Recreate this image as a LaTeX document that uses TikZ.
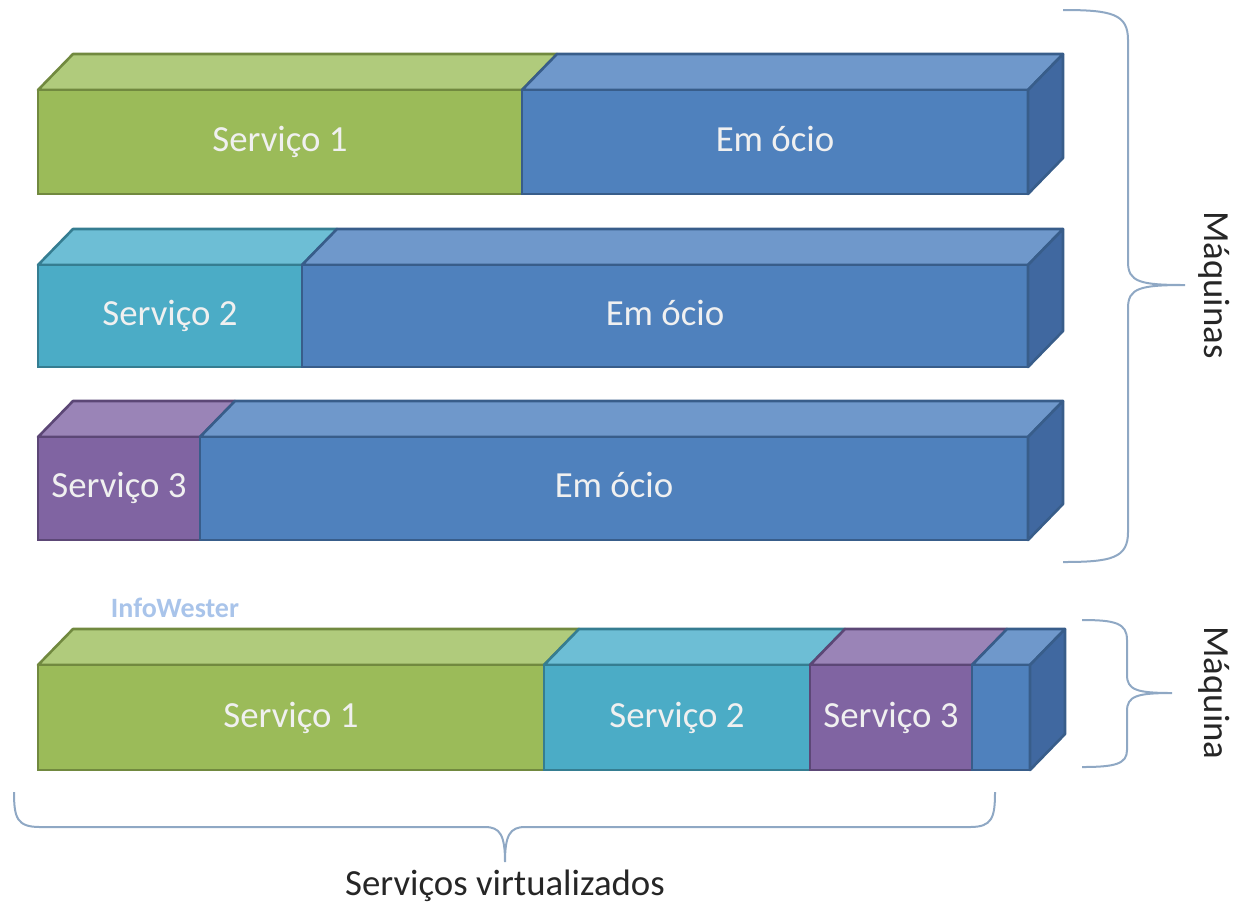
\documentclass[tikz,border=0pt]{standalone}
\usepackage{fontspec}
\setmainfont{Carlito}
\definecolor{verde}{HTML}{9BBB59}
\definecolor{verdeC}{HTML}{B0CB7C}
\definecolor{verdeE}{HTML}{71893F}
\definecolor{azul}{HTML}{4F81BD}
\definecolor{azulC}{HTML}{6F98CB}
\definecolor{azulE}{HTML}{385D8A}
\definecolor{azulL}{HTML}{4068A0}
\definecolor{ciano}{HTML}{4BACC6}
\definecolor{cianoC}{HTML}{6DBED5}
\definecolor{cianoE}{HTML}{357D91}
\definecolor{roxo}{HTML}{8064A2}
\definecolor{roxoC}{HTML}{9A84B7}
\definecolor{roxoE}{HTML}{5C4776}
\definecolor{chave}{HTML}{8FA8C4}
\definecolor{marca}{HTML}{A9C4EA}
% bloco : x1, x2, y haut, y bas, couleur
\newcommand{\bloco}[5]{%
\filldraw [fill=#5C,draw=#5E,line width=1.3pt,line join=round] (#1,#3) -- ++(35,-36) -- (#2+35,#3-36) -- (#2,#3) -- cycle;
\filldraw [fill=#5,draw=#5E,line width=1.3pt] (#1,#3) rectangle (#2,#4);}
% face de droite
\newcommand{\lado}[3]{%
\filldraw [fill=azulL,draw=azulE,line width=1.3pt,line join=round] (#1,#2) -- ++(35,-36) -- (#1+35,#3-36) -- (#1,#3) -- cycle;}
\begin{document}
\begin{tikzpicture} [x=0.5pt,y=-0.5pt,
  rotulo/.style={text=white!94!black,font=\fontsize{18.4}{22}\selectfont,text height=13pt,text depth=4pt},
  legenda/.style={text=black!85,font=\fontsize{18.4}{22}\selectfont,text height=13pt,text depth=4pt},
  chaves/.style={draw=chave,line width=1pt}]
\useasboundingbox (0,0) rectangle (1240,912);

% trois machines
\bloco{38}{522}{90}{194}{verde}
\bloco{522}{1028}{90}{194}{azul}
\lado{1028}{90}{194}
\bloco{38}{302}{265}{367}{ciano}
\bloco{302}{1028}{265}{367}{azul}
\lado{1028}{265}{367}
\bloco{38}{200}{437}{540}{roxo}
\bloco{200}{1028}{437}{540}{azul}
\lado{1028}{437}{540}

\node[rotulo] (s1) at (280,142){Serviço 1};
\node[rotulo] (o1) at (775,142){Em ócio};
\node[rotulo] (s2) at (170,316){Serviço 2};
\node[rotulo] (o2) at (665,316){Em ócio};
\node[rotulo] (s3) at (119,488){Serviço 3};
\node[rotulo] (o3) at (614,488){Em ócio};

% une machine virtualisee
\node[text=marca,font=\bfseries\fontsize{14}{16}\selectfont] (iw) at (175,608){InfoWester};
\bloco{38}{544}{665}{770}{verde}
\bloco{544}{810}{665}{770}{ciano}
\bloco{810}{972}{665}{770}{roxo}
\bloco{972}{1030}{665}{770}{azul}
\lado{1030}{665}{770}

\node[rotulo] (v1) at (291,718){Serviço 1};
\node[rotulo] (v2) at (677,718){Serviço 2};
\node[rotulo] (v3) at (891,718){Serviço 3};

% accolades
\draw[chaves] (1063,10) .. controls (1112,10) and (1128,14) .. (1128,40) -- (1128,262)
  .. controls (1128,282) and (1140,285) .. (1185,285)
  .. controls (1140,285) and (1128,288) .. (1128,308) -- (1128,532)
  .. controls (1128,558) and (1112,562) .. (1063,562);
\draw[chaves] (1082,620) .. controls (1115,620) and (1127,623) .. (1127,640) -- (1127,675)
  .. controls (1127,690) and (1137,693) .. (1172,693)
  .. controls (1137,693) and (1127,696) .. (1127,711) -- (1127,750)
  .. controls (1127,764) and (1115,767) .. (1082,767);
\draw[chaves] (14,792) .. controls (14,818) and (17,827) .. (40,827) -- (485,827)
  .. controls (500,827) and (505,835) .. (505,862)
  .. controls (505,835) and (510,827) .. (525,827) -- (970,827)
  .. controls (992,827) and (995,818) .. (995,792);

\node[legenda,rotate=-90] (mqs) at (1213,285){Máquinas};
\node[legenda,rotate=-90] (mq) at (1213,693){Máquina};
\node[legenda] (sv) at (505,886){Serviços virtualizados};
\end{tikzpicture}
\end{document}
